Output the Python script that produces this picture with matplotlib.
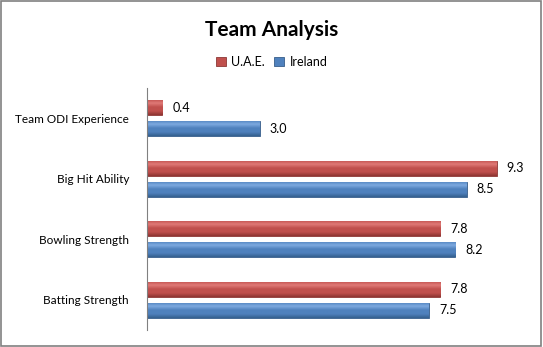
import matplotlib.pyplot as plt
import matplotlib.colors as mcolors
import numpy as np

# data
categories = ["Team ODI Experience", "Big Hit Ability", "Bowling Strength", "Batting Strength"]
uae = [0.4, 9.3, 7.8, 7.8]
ireland = [3.0, 8.5, 8.2, 7.5]

red = "#C0504D"
blue = "#4F81BD"

plt.rcParams['font.family'] = ['Lato', 'DejaVu Sans']

fig = plt.figure(figsize=(5.43, 3.47), dpi=100)
ax = fig.add_axes([147/543, 17/347, 383/543, 242/347])

# top category first
y = np.arange(len(categories))[::-1]
h = 0.25
bars_u = ax.barh(y + 0.175, uae, height=h, color=red, edgecolor="#8C3836", linewidth=0.6, label="U.A.E.")
bars_i = ax.barh(y - 0.175, ireland, height=h, color=blue, edgecolor="#385D8A", linewidth=0.6, label="Ireland")

# glossy vertical gradient on each bar (light near the top, dark at the bottom)
def shade(bars, light, base, dark):
    cmap = mcolors.LinearSegmentedColormap.from_list("g", [dark, base, base, light, base])
    grad = np.linspace(0, 1, 64).reshape(-1, 1)
    for b in bars:
        x0, y0 = b.get_x(), b.get_y()
        im = ax.imshow(grad, cmap=cmap, aspect="auto", origin="lower",
                       extent=(x0, x0 + b.get_width(), y0, y0 + b.get_height()), zorder=b.get_zorder())
        im.set_clip_path(b)

shade(bars_u, "#E07A77", red, "#8E3532")
shade(bars_i, "#7EAAE0", blue, "#35608F")

for yi, v in zip(y, uae):
    ax.text(v + 0.27, yi + 0.175, "%.1f" % v, va="center", ha="left", fontsize=9)
for yi, v in zip(y, ireland):
    ax.text(v + 0.27, yi - 0.175, "%.1f" % v, va="center", ha="left", fontsize=9)

ax.set_xlim(0, 383/37.6)
ax.set_ylim(-0.5, len(categories) - 0.5)
ax.set_yticks(y)
ax.set_yticklabels(categories, fontsize=8.5)
ax.tick_params(axis="y", length=0, pad=13)
ax.set_xticks([])
for s in ["top", "right", "bottom"]:
    ax.spines[s].set_visible(False)
ax.spines["left"].set_color("#808080")
ax.spines["left"].set_linewidth(0.8)

fig.text(0.5, 1 - 30/347, "Team Analysis", ha="center", va="center", fontsize=15, fontweight="bold")
fig.legend(loc="center", bbox_to_anchor=(0.5, 1 - 62/347), ncol=2, frameon=False,
           fontsize=9, handlelength=0.8, handleheight=0.8, handletextpad=0.4, columnspacing=0.8)

# outer border
fig.patches.append(plt.Rectangle((0.002, 0.003), 0.995, 0.994, transform=fig.transFigure,
                                 fill=False, edgecolor="#808080", linewidth=1.2))

fig.savefig("out.png", dpi=100)
